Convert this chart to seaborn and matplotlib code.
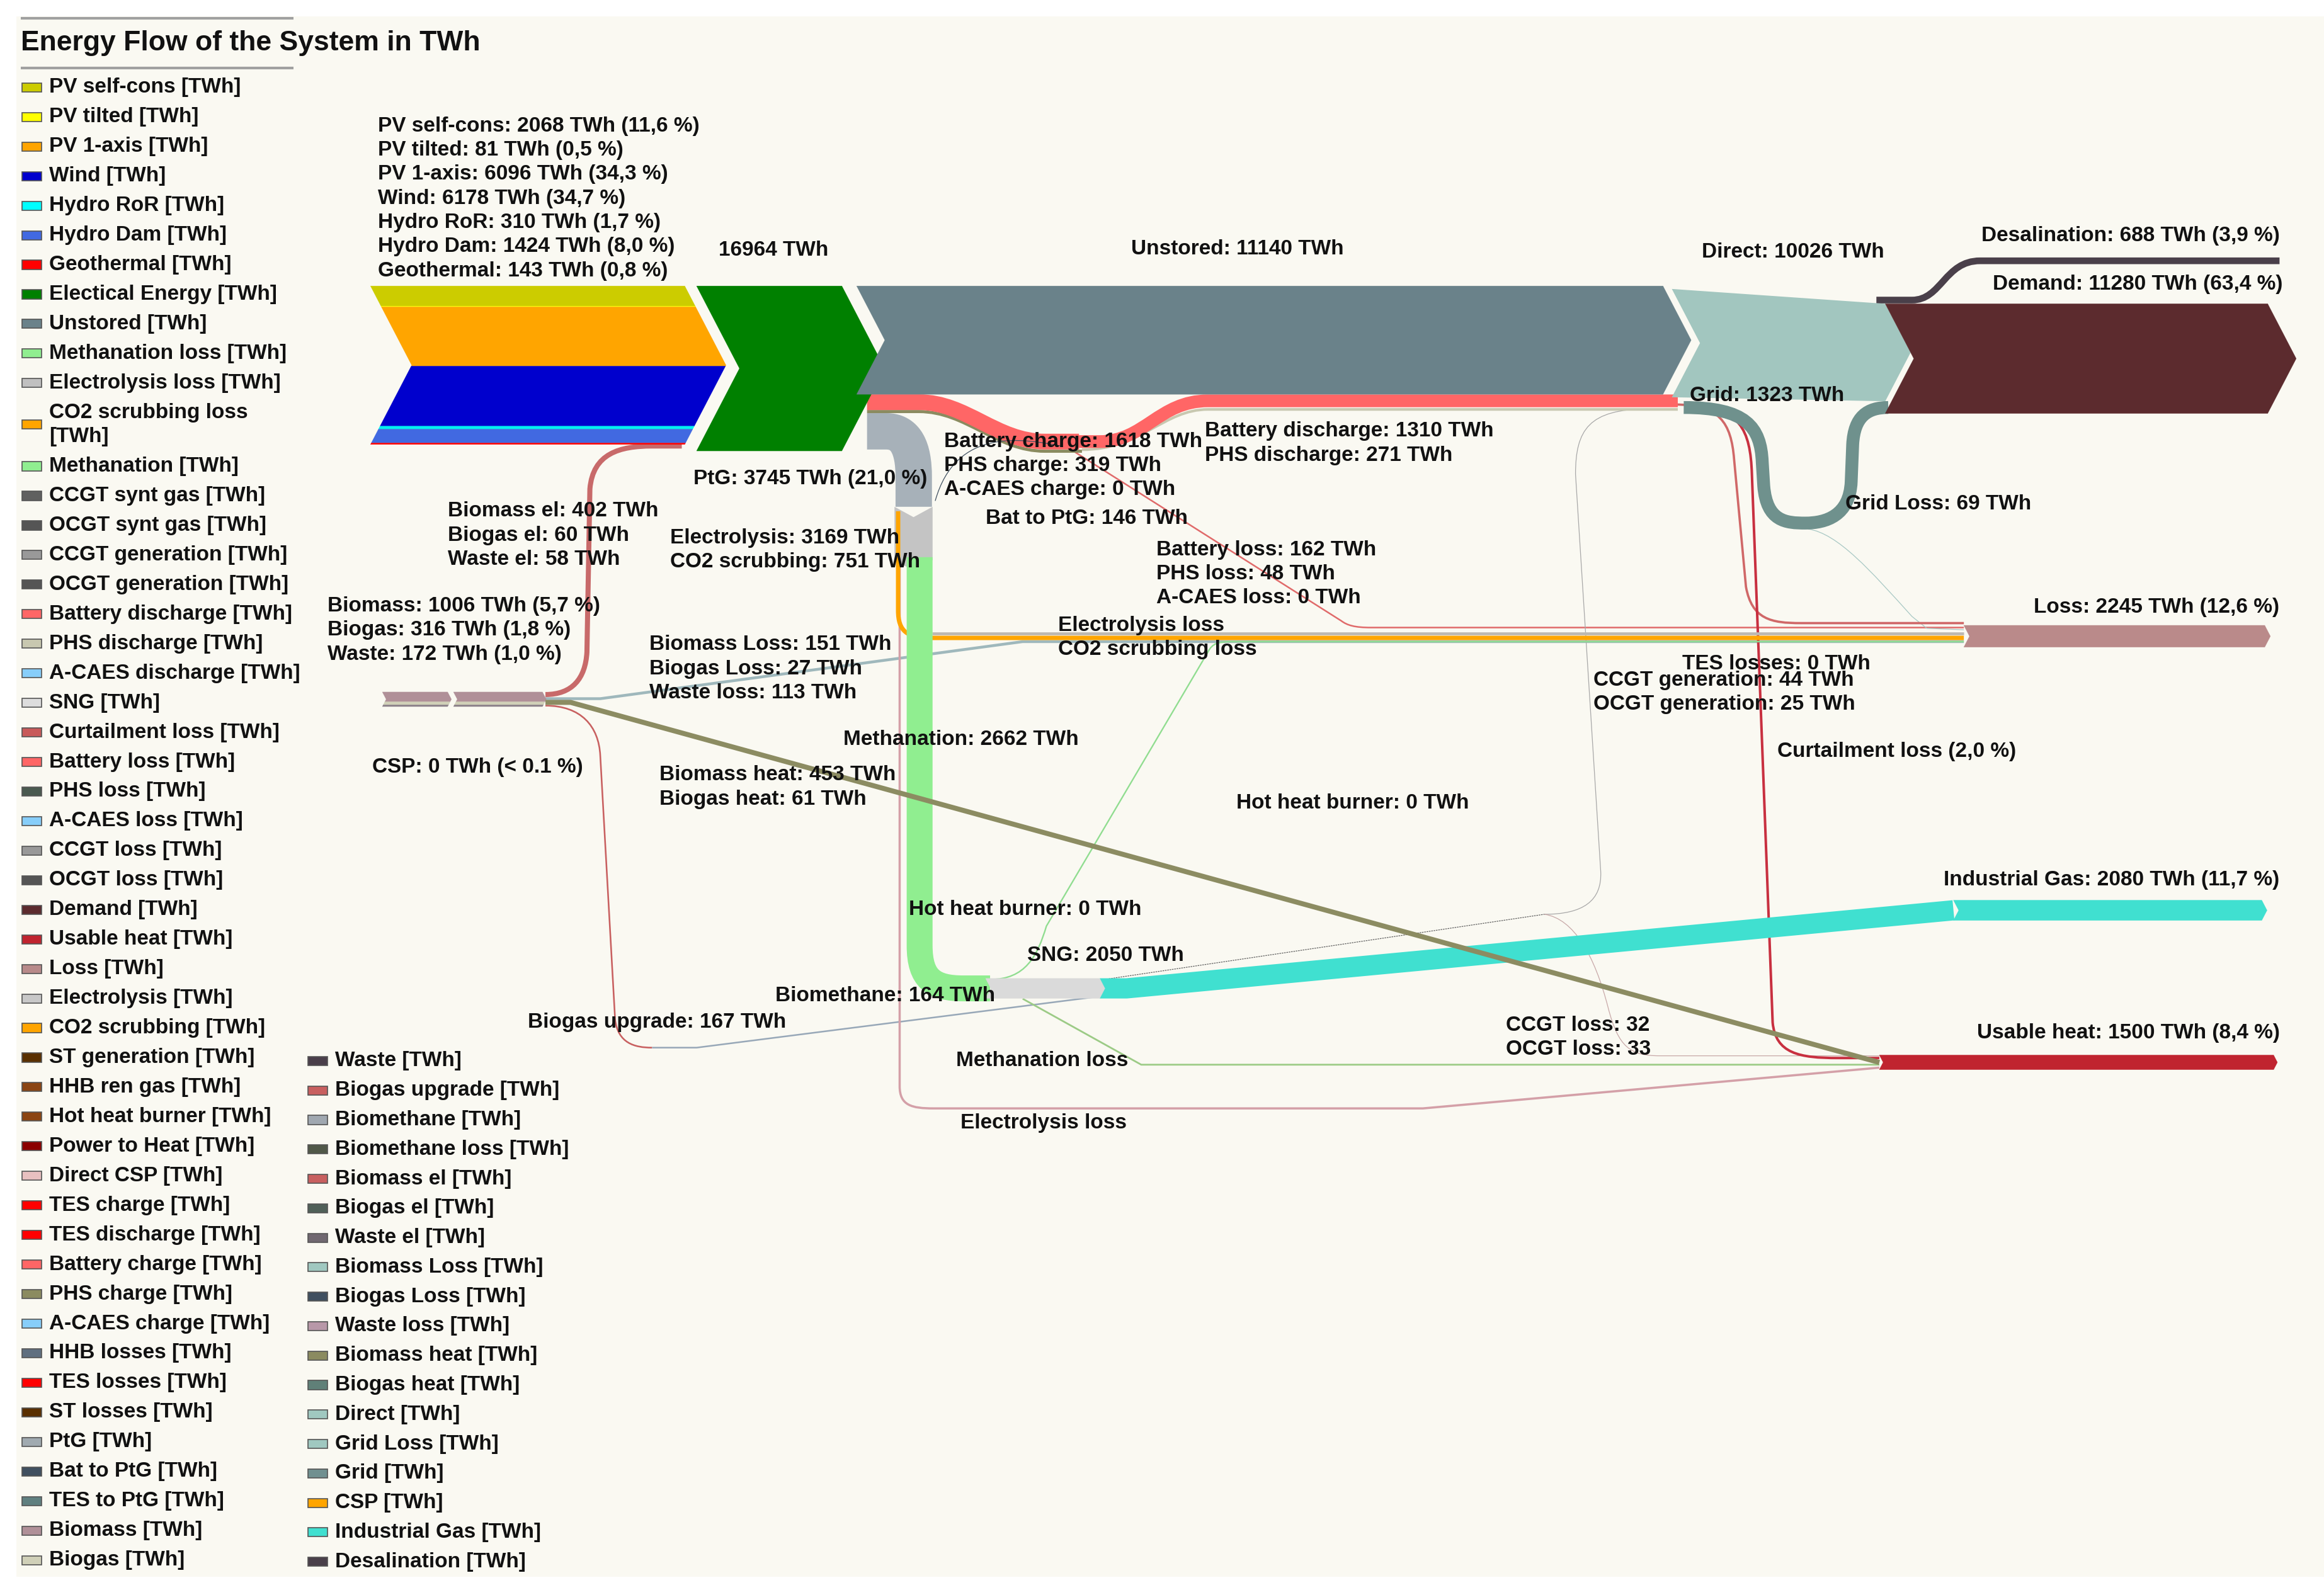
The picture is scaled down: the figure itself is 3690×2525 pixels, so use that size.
import matplotlib
matplotlib.use("Agg")
import matplotlib.pyplot as plt
from matplotlib.path import Path
from matplotlib.patches import PathPatch, Polygon, Rectangle
import seaborn as sns

# ---------------- data (TWh) ----------------
SOURCES = ["PV self-cons", "PV tilted", "PV 1-axis", "Wind", "Hydro RoR", "Hydro Dam", "Geothermal"]
SOURCE_TWH = [2068, 81, 6096, 6178, 310, 1424, 143]
SOURCE_PCT = ["11,6", "0,5", "34,3", "34,7", "1,7", "8,0", "0,8"]
SOURCE_COLORS = ["#CCCC00", "#FFFF00", "#FFA500", "#0000CD", "#00F0F0", "#4169E1", "#FF0000"]

BIO = ["Biomass", "Biogas", "Waste"]
BIO_TWH = [1006, 316, 172]
BIO_PCT = ["5,7", "1,8", "1,0"]
BIO_COLORS = ["#B09098", "#D0D0B8", "#8A7F88"]
BIO_EL = [402, 60, 58]
BIO_LOSS = [151, 27, 113]
BIO_HEAT = [453, 61]
BIOGAS_UPGRADE = 167
BIOMETHANE = 164

ELECTRICAL = 16964
UNSTORED = 11140
DIRECT = 10026
GRID = 1323
GRID_LOSS = 69

STORAGE = ["Battery", "PHS", "A-CAES"]
CHARGE = [1618, 319, 0]
DISCHARGE = [1310, 271]
STORAGE_LOSS = [162, 48, 0]
BAT_TO_PTG = 146

PTG = 3745
PTG_PCT = "21,0"
ELECTROLYSIS = 3169
CO2_SCRUBBING = 751
METHANATION = 2662
SNG = 2050

CCGT_GEN, OCGT_GEN = 44, 25
CCGT_LOSS, OCGT_LOSS = 32, 33

SINKS = ["Demand", "Desalination", "Loss", "Industrial Gas", "Usable heat"]
SINK_TWH = [11280, 688, 2245, 2080, 1500]
SINK_PCT = ["63,4", "3,9", "12,6", "11,7", "8,4"]

# flows without printed values, estimated from band widths
CURTAILMENT = 356
ELECTROLYSIS_LOSS = [300, 230]      # to Loss, to Usable heat
CO2_LOSS = 450
METHANATION_LOSS = [150, 180]       # to Loss, to Usable heat
POWER_TO_HEAT = 260

LEGEND_A = ["PV self-cons", "PV tilted", "PV 1-axis", "Wind", "Hydro RoR", "Hydro Dam",
            "Geothermal", "Electical Energy", "Unstored", "Methanation loss", "Electrolysis loss",
            "CO2 scrubbing loss", "Methanation", "CCGT synt gas", "OCGT synt gas",
            "CCGT generation", "OCGT generation", "Battery discharge", "PHS discharge",
            "A-CAES discharge", "SNG", "Curtailment loss", "Battery loss", "PHS loss",
            "A-CAES loss", "CCGT loss", "OCGT loss", "Demand", "Usable heat", "Loss",
            "Electrolysis", "CO2 scrubbing", "ST generation", "HHB ren gas", "Hot heat burner",
            "Power to Heat", "Direct CSP", "TES charge", "TES discharge", "Battery charge",
            "PHS charge", "A-CAES charge", "HHB losses", "TES losses", "ST losses", "PtG",
            "Bat to PtG", "TES to PtG", "Biomass", "Biogas"]
LEGEND_A_COLORS = ["#CCCC00", "#FFFF00", "#FFA500", "#0000CD", "#00FFFF", "#4169E1",
                   "#FF0000", "#008000", "#6A828A", "#90EE90", "#C0C0C0",
                   "#FFA500", "#90EE90", "#606060", "#555555",
                   "#999999", "#555555", "#FF6666", "#C8C8B0",
                   "#87CEFA", "#DDDDDD", "#C85A5A", "#FF6666", "#4A5A50",
                   "#87CEFA", "#999999", "#555555", "#5C2B2E", "#C0242F", "#B88A8A",
                   "#C8C8C8", "#FFA500", "#5A3000", "#8B4513", "#8B4513",
                   "#8B0000", "#E8C0C0", "#FF0000", "#FF0000", "#FF6666",
                   "#8B8B60", "#87CEFA", "#607080", "#FF0000", "#5A3000", "#A0AAB0",
                   "#405060", "#608080", "#B09098", "#D0D0B8"]
LEGEND_B = ["Waste", "Biogas upgrade", "Biomethane", "Biomethane loss", "Biomass el",
            "Biogas el", "Waste el", "Biomass Loss", "Biogas Loss", "Waste loss",
            "Biomass heat", "Biogas heat", "Direct", "Grid Loss", "Grid", "CSP",
            "Industrial Gas", "Desalination"]
LEGEND_B_COLORS = ["#4A3F4A", "#C86060", "#A0A8B0", "#505848", "#C86060",
                   "#506058", "#706870", "#A0C8C0", "#405060", "#B898A8",
                   "#8B8B60", "#608078", "#A0C8C0", "#A0C8C0", "#709090", "#FFA500",
                   "#40E0D0", "#4A404A"]

# ---------------- layout ----------------
W, H = 1568, 1073          # layout units (1 unit = 3690/1568 output px)
K = 0.00656                # layout units per TWh
PT = 3690 / W * 72 / 100   # points per layout unit
D = 0.26                   # chevron depth / height
BG = "#FAF9F2"
FS = 24
TXT = "#111111"

sns.set_theme(style="white")
plt.rcParams["font.family"] = ["Liberation Sans", "DejaVu Sans"]

fig = plt.figure(figsize=(36.9, 25.25), dpi=100)
fig.patch.set_facecolor("white")
ax = fig.add_axes([0, 0, 1, 1])
ax.set_xlim(0, W)
ax.set_ylim(H, 0)
ax.axis("off")
ax.add_patch(Rectangle((11, 11), W - 11, 1053, fc=BG, ec="none", zorder=0))


def chev_poly(xl, xr, top, h, ya, yb, d):
    ym = top + h / 2
    off = lambda y: d * (1 - abs(y - ym) / (h / 2))
    left = [(xl + off(ya), ya)]
    if ya < ym < yb:
        left.append((xl + d, ym))
    left.append((xl + off(yb), yb))
    right = [(xr + off(yb), yb)]
    if ya < ym < yb:
        right.append((xr + d, ym))
    right.append((xr + off(ya), ya))
    return left + right


def node(xl, xr, top, values, colors, z=3):
    h = sum(values) * K
    d = D * h
    y = top
    for v, c in zip(values, colors):
        yb = y + v * K
        if v > 0:
            ax.add_patch(Polygon(chev_poly(xl, xr, top, h, y, yb, d), closed=True,
                                 fc=c, ec=c, lw=0.3, zorder=z))
        y = yb
    return h


def flow(spec, value, color, z=2, alpha=1.0, ls="-"):
    verts = [spec[0]]
    codes = [Path.MOVETO]
    for s in spec[1:]:
        if isinstance(s[0], tuple):
            verts.extend(s)
            codes.extend([Path.CURVE4] * 3)
        else:
            verts.append(s)
            codes.append(Path.LINETO)
    lw = max(value * K * PT, 0.9)
    ax.add_patch(PathPatch(Path(verts, codes), fill=False, ec=color, lw=lw, alpha=alpha,
                           capstyle="butt", joinstyle="round", ls=ls, zorder=z))


def label(x, y, lines, ha="left", step=16.3, fs=FS):
    for i, t in enumerate(lines):
        ax.text(x, y + i * step, t, ha=ha, va="center", fontsize=fs,
                fontweight="bold", color=TXT, zorder=8)


# ---------------- thin / secondary flows ----------------
b_top = 467
flow([(368, b_top + 1.7), ((386, b_top + 1.7), (395, 458), (396, 440)), (398, 330),
      ((400, 306), (418, 301), (440, 301)), (460, 301)], sum(BIO_EL), "#C86A6A")
flow([(368, b_top + 4.5), (405, b_top + 4.5), (690, 433), (1325, 433)], sum(BIO_LOSS), "#9FB8BC")
flow([(368, b_top + 7.0), (385, b_top + 7.0), (1268, 717)], sum(BIO_HEAT), "#8C8C62", z=4)
flow([(368, b_top + 9.2), ((392, b_top + 9.2), (404, 490), (405, 510)), (415, 688),
      ((417, 704), (428, 707), (440, 707))], BIOGAS_UPGRADE, "#C86060")
flow([(440, 707), (470, 707), (745, 672)], BIOMETHANE, "#98A8B8")

# battery / PHS loop
un_h = UNSTORED * K
y_bc = 193 + un_h + CHARGE[0] * K / 2
flow([(585, y_bc), (620, y_bc), ((652, y_bc), (672, 298), (705, 298)), (728, 298)],
     CHARGE[0], "#FF6666", z=2.5)
y_phs = 193 + un_h + CHARGE[0] * K + CHARGE[1] * K / 2
flow([(585, y_phs), (620, y_phs), ((652, y_phs), (672, 304.5), (705, 304.5)), (730, 304.5)],
     CHARGE[1], "#8B8B60", z=2.4)
flow([(724, 298), (742, 298), ((772, 298), (782, 270.5), (815, 270.5)), (1132, 270.5)],
     DISCHARGE[0], "#FF6666", z=2.5)
flow([(730, 303.5), ((770, 303.5), (785, 276.3), (815, 276.3)), (1132, 276.3)],
     DISCHARGE[1], "#C8C8B0", z=2.4)
flow([(716, 301), ((690, 296), (645, 288), (631, 338))], BAT_TO_PTG / 3, "#405060", z=2.6)
flow([(722, 303), (905, 419), ((909, 422), (914, 423.5), (925, 423.5)), (1325, 423.5)],
     STORAGE_LOSS[0], "#E06A6A")

# PtG column
ptg_y = 193 + un_h + (CHARGE[0] + CHARGE[1]) * K + PTG * K / 2
flow([(585, ptg_y), (598, ptg_y), ((611, ptg_y), (616.5, 302), (616.5, 322)), (616.5, 342)],
     PTG, "#A7B1B9", z=2.2)
co2_x = 603.5 + CO2_SCRUBBING * K / 2
flow([(co2_x, 345), (co2_x, 412), ((co2_x, 426), (612, 430.5), (628, 430.5)), (1325, 430.5)],
     CO2_LOSS, "#FFA500", z=2.3)
flow([(629, 427.5), (1325, 427.5)], ELECTROLYSIS_LOSS[0], "#BDB8B0", z=2.2)
flow([(607, 380), (607, 733), ((607, 746), (615, 748), (630, 748)), (960, 748), (1268, 720.5)],
     ELECTROLYSIS_LOSS[1], "#D4A0A8", z=2.1)
meth_x = 629.2 - METHANATION * K / 2
flow([(meth_x, 376), (meth_x, 638), ((meth_x, 661), (630, 667), (650, 667)), (668, 667)],
     METHANATION, "#90EE90", z=2.3)

# SNG out-flows
flow([(668, 661), ((692, 661), (700, 645), (706, 625)), (815, 440),
      ((818, 434), (822, 433), (832, 433)), (1325, 433)], METHANATION_LOSS[0], "#90DD90", z=2.2)
flow([(690, 674), (770, 718.5), (1268, 718.5)], METHANATION_LOSS[1], "#9CCB86", z=2.2)
flow([(742, 667), (760, 667), (1318, 614.3)], SINK_TWH[3], "#40E0D0", z=2.6)
flow([(745, 661), (1042, 617)], CCGT_GEN + OCGT_GEN, "#606060", ls=(0, (2, 1)))
flow([(1112, 276), ((1072, 276), (1063, 290), (1063, 320)), (1080, 588),
      ((1081, 608), (1068, 617), (1042, 617))], CCGT_GEN, "#A8A8A8")
flow([(1042, 617), ((1062, 620), (1076, 645), (1085, 680)), ((1092, 707), (1100, 712.5), (1120, 712.5)),
      (1268, 712.5)], CCGT_LOSS + OCGT_LOSS, "#C8A8A8")

# grid and curtailment
flow([(1136, 275), ((1178, 275), (1188, 288), (1189, 312)), (1190, 328),
      ((1192, 352), (1205, 353), (1218, 353)), ((1232, 353), (1248, 348), (1249, 325)),
      (1250, 300), ((1251, 281), (1260, 275), (1274, 275))], GRID, "#6F918D", z=2.6)
flow([(1220, 357), ((1240, 360), (1262, 385), (1290, 416)), (1300, 424), (1325, 425)],
     GRID_LOSS, "#A8C8C4")
flow([(1130, 273), ((1160, 273), (1168, 285), (1170, 310)), (1178, 396),
      ((1182, 418), (1195, 420.5), (1215, 420.5)), (1325, 420.5)], CURTAILMENT / 1.5, "#D06868")
flow([(1138, 274), ((1174, 274), (1181, 290), (1182, 320)), (1196, 690),
      ((1198, 711), (1214, 714), (1240, 714)), (1268, 714)], POWER_TO_HEAT, "#C83040")

# desalination
flow([(1266, 202.5), (1290, 202.5), ((1310, 202.5), (1312, 176), (1336, 176)), (1538, 176)],
     SINK_TWH[1], "#4A404A")

# ---------------- nodes ----------------
node(250, 462, 193, SOURCE_TWH, SOURCE_COLORS)
node(470, 568, 193, [ELECTRICAL], ["#008000"])
node(578, 1122, 193, [UNSTORED], ["#6A828A"])
dr_h = DIRECT * K
ax.add_patch(Polygon([(1128, 195), (1128 + D * un_h, 195 + un_h / 2), (1128, 195 + un_h),
                      (1272, 205 + dr_h), (1272 + D * dr_h, 205 + dr_h / 2), (1272, 205)],
                     closed=True, fc="#A2C6BF", ec="none", zorder=3))
node(1272, 1530, 205, [SINK_TWH[0]], ["#5C2B2E"])
node(1325, 1528, 422, [SINK_TWH[2]], ["#BA8A8A"])
node(1318, 1526, 607.5, [SINK_TWH[3]], ["#40E0D0"])
node(1268, 1534, 712, [SINK_TWH[4]], ["#C0242F"])
node(665, 742, 660.3, [SNG], ["#DADADA"])
node(258, 302, b_top, BIO_TWH, BIO_COLORS)
node(306, 366, b_top, BIO_TWH, BIO_COLORS)
# electrolysis / PtG block (pointing down)
ex0, ex1 = 603.5, 603.5 + (ELECTROLYSIS + CO2_SCRUBBING) * K
ax.add_patch(Polygon([(ex0, 342), ((ex0 + ex1) / 2, 349), (ex1, 342), (ex1, 378),
                      ((ex0 + ex1) / 2, 385), (ex0, 378)], closed=True,
                     fc="#C4C4C4", ec="none", zorder=2.25))

# ---------------- labels ----------------
label(255, 85, [f"{n}: {v} TWh ({p} %)" for n, v, p in zip(SOURCES, SOURCE_TWH, SOURCE_PCT)])
label(485, 169, [f"{ELECTRICAL} TWh"])
label(763, 168, [f"Unstored: {UNSTORED} TWh"])
label(1148, 170, [f"Direct: {DIRECT} TWh"])
label(1538, 159, [f"Desalination: {SINK_TWH[1]} TWh ({SINK_PCT[1]} %)"], ha="right")
label(1540, 192, [f"Demand: {SINK_TWH[0]} TWh ({SINK_PCT[0]} %)"], ha="right")
label(1140, 267, [f"Grid: {GRID} TWh"])
label(1245, 340, [f"Grid Loss: {GRID_LOSS} TWh"])
label(637, 298, [f"{s} charge: {v} TWh" for s, v in zip(STORAGE, CHARGE)])
label(665, 350, [f"Bat to PtG: {BAT_TO_PTG} TWh"])
label(813, 291, [f"{s} discharge: {v} TWh" for s, v in zip(STORAGE, DISCHARGE)])
label(468, 323, [f"PtG: {PTG} TWh ({PTG_PCT} %)"])
label(302, 345, [f"{s} el: {v} TWh" for s, v in zip(BIO, BIO_EL)])
label(452, 363, [f"Electrolysis: {ELECTROLYSIS} TWh", f"CO2 scrubbing: {CO2_SCRUBBING} TWh"])
label(780, 371, [f"{s} loss: {v} TWh" for s, v in zip(STORAGE, STORAGE_LOSS)])
label(221, 409, [f"{n}: {v} TWh ({p} %)" for n, v, p in zip(BIO, BIO_TWH, BIO_PCT)])
label(714, 422, ["Electrolysis loss", "CO2 scrubbing loss"])
label(1538, 410, [f"Loss: {SINK_TWH[2]} TWh ({SINK_PCT[2]} %)"], ha="right")
label(438, 435, [f"Biomass Loss: {BIO_LOSS[0]} TWh", f"Biogas Loss: {BIO_LOSS[1]} TWh",
                 f"Waste loss: {BIO_LOSS[2]} TWh"])
label(1135, 448, ["TES losses: 0 TWh"])
label(1075, 459, [f"CCGT generation: {CCGT_GEN} TWh", f"OCGT generation: {OCGT_GEN} TWh"])
label(569, 499, [f"Methanation: {METHANATION} TWh"])
label(1199, 507, ["Curtailment loss (2,0 %)"])
label(251, 518, ["CSP: 0 TWh (< 0.1 %)"])
label(445, 523, [f"{s} heat: {v} TWh" for s, v in zip(BIO, BIO_HEAT)])
label(834, 542, ["Hot heat burner: 0 TWh"])
label(1538, 594, [f"Industrial Gas: {SINK_TWH[3]} TWh ({SINK_PCT[3]} %)"], ha="right")
label(613, 614, ["Hot heat burner: 0 TWh"])
label(693, 645, [f"SNG: {SNG} TWh"])
label(523, 672, [f"Biomethane: {BIOMETHANE} TWh"])
label(356, 690, [f"Biogas upgrade: {BIOGAS_UPGRADE} TWh"])
label(1016, 692, [f"CCGT loss: {CCGT_LOSS}", f"OCGT loss: {OCGT_LOSS}"])
label(1538, 697, [f"Usable heat: {SINK_TWH[4]} TWh ({SINK_PCT[4]} %)"], ha="right")
label(645, 716, ["Methanation loss"])
label(648, 758, ["Electrolysis loss"])

# ---------------- legend ----------------
ax.plot([14, 198], [12.5, 12.5], color="#A0A0A0", lw=3, zorder=5, solid_capstyle="butt")
ax.plot([14, 198], [46, 46], color="#A0A0A0", lw=3, zorder=5, solid_capstyle="butt")
ax.text(14, 29, "Energy Flow of the System in TWh", ha="left", va="center", fontsize=32,
        fontweight="bold", color=TXT, zorder=8)


def legend_entry(x, y, name, color, wrap=False):
    ax.add_patch(Rectangle((x, y - 3), 13, 6, fc=color, ec="#555555", lw=1.2, zorder=6))
    if wrap:
        label(x + 18, y - 8, [f"{name}", "[TWh]"], step=16.3)
    else:
        label(x + 18, y, [f"{name} [TWh]"])


y = 59
for name, col in zip(LEGEND_A, LEGEND_A_COLORS):
    if name == "CO2 scrubbing loss":
        legend_entry(15, y + 8, name, col, wrap=True)
        y += 16.3
    else:
        legend_entry(15, y, name, col)
    y += 19.95

for j, (name, col) in enumerate(zip(LEGEND_B, LEGEND_B_COLORS)):
    legend_entry(208, 716 + j * 19.88, name, col)

fig.savefig("out.png", dpi=100, facecolor="white")
